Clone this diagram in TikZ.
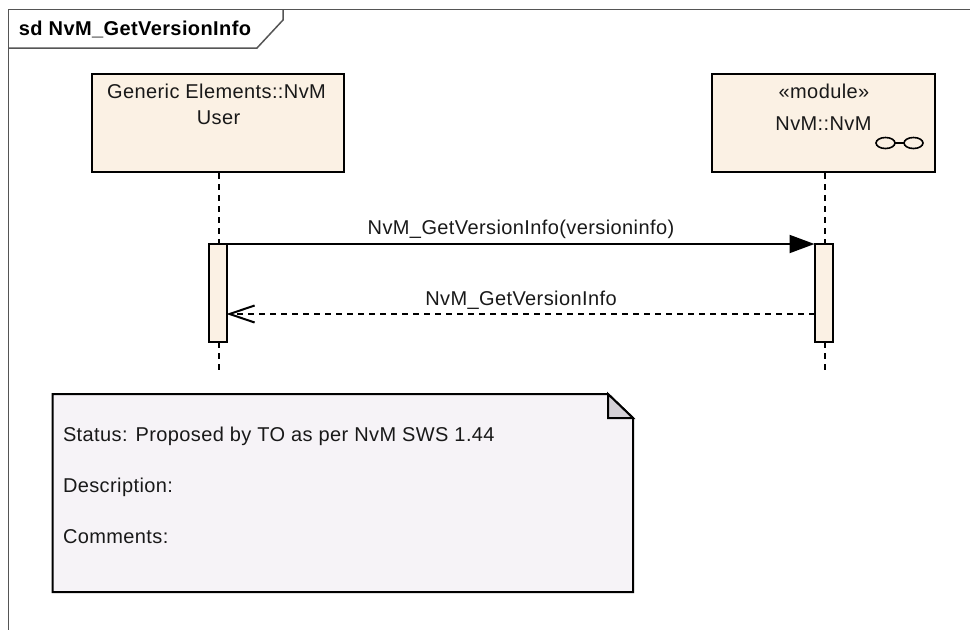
\documentclass[tikz,border=0pt]{standalone}
\usepackage{fontspec}
\setmainfont[LetterSpace=2]{Liberation Sans}
\usetikzlibrary{arrows.meta}
\definecolor{boxfill}{HTML}{FBF1E4}
\definecolor{notefill}{HTML}{F6F3F7}
\definecolor{foldfill}{HTML}{D4D0D6}
\definecolor{framecol}{HTML}{555555}
\tikzset{
  txt/.style={inner sep=0pt,outer sep=0pt,font=\fontsize{20}{24}\selectfont,text=black!90},
  ttl/.style={inner sep=0pt,outer sep=0pt,font=\fontsize{20}{24}\selectfont\bfseries,text=black},
  lifebox/.style={draw=black,line width=2pt,fill=boxfill,minimum width=#1,minimum height=98pt,inner sep=0pt,outer sep=0pt},
  actbar/.style={draw=black,line width=2pt,fill=boxfill,minimum width=18pt,minimum height=98pt,inner sep=0pt,outer sep=0pt},
  lifeline/.style={draw=black,line width=2pt,dash pattern=on 6pt off 5pt},
  msg/.style={draw=black,line width=2pt},
}
\begin{document}
\begin{tikzpicture}[x=1pt,y=-1pt]
\useasboundingbox[fill=white] (0,0) rectangle (970,630);
% frame
\draw[framecol,line width=1.5pt] (970,9.5) -- (8.5,9.5) -- (8.5,630);
\draw[framecol,line width=1.5pt] (8.5,48) -- (257,48) -- (283,20) -- (283,9.5);
\node[ttl,anchor=base west] (title) at (19,35) {sd NvM\_GetVersionInfo};
% lifeline heads
\node[lifebox=252pt] (user) at (218,123) {};
\node[lifebox=223pt] (nvm) at (823.5,123) {};
\node[txt,anchor=base] (userA) at (216.5,98) {Generic Elements::NvM};
\node[txt,anchor=base] (userB) at (218.5,124) {User};
\node[txt,anchor=base] (modA) at (824,98) {«module»};
\node[txt,anchor=base] (modB) at (823.5,130) {NvM::NvM};
% subsystem icon
\draw[black,line width=1.6pt] (885.5,143) ellipse [x radius=9.5pt,y radius=5.5pt];
\draw[black,line width=1.6pt] (913.5,143) ellipse [x radius=9.5pt,y radius=5.5pt];
\draw[black,line width=1.6pt] (895,143) -- (904,143);
% activation bars
\node[actbar] (actL) at (217.5,293) {};
\node[actbar] (actR) at (823.5,293) {};
\coordinate (endL) at (218.5,373);
\coordinate (endR) at (824.5,373);
\draw[lifeline] (218.5,173) -- (actL.north -| endL);
\draw[lifeline] (actL.south -| endL) -- (endL);
\draw[lifeline] (824.5,173) -- (actR.north -| endR);
\draw[lifeline] (actR.south -| endR) -- (endR);
% messages
\draw[msg,-{Triangle[length=25pt,width=18pt,fill=black]}] (actL.north east) -- (actR.north west);
\node[txt,anchor=base] (m1) at (521,234) {NvM\_GetVersionInfo(versioninfo)};
\coordinate (retR) at (actR.west |- 0,314);
\coordinate (retL) at (actL.east |- 0,314);
\draw[msg,dash pattern=on 6pt off 5pt,-{Straight Barb[length=25pt,width=17pt,line width=2pt]}] (retR) -- (retL);
\node[txt,anchor=base] (m2) at (521,305) {NvM\_GetVersionInfo};
% note
\draw[black,line width=2pt,fill=notefill] (52.5,394) -- (608,394) -- (633,418) -- (633,592) -- (52.5,592) -- cycle;
\draw[black,line width=2pt,fill=foldfill] (608,394) -- (633,418) -- (608,418) -- cycle;
\node[txt,anchor=base west] (n1) at (63,441) {Status: Proposed by TO as per NvM SWS 1.44};
\node[txt,anchor=base west] (n2) at (63,492) {Description:};
\node[txt,anchor=base west] (n3) at (63,543) {Comments:};
\end{tikzpicture}
\end{document}
